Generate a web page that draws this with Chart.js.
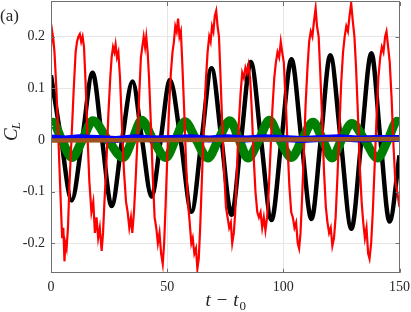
<!DOCTYPE html>
<html>
<head>
<meta charset="utf-8">
<script src="https://cdn.jsdelivr.net/npm/chart.js@4.4.1/dist/chart.umd.min.js"></script>
<style>
  html, body { margin: 0; padding: 0; background: #fff; }
  #cl-chart { display: block; }
</style>
</head>
<body>
<canvas id="cl-chart" width="411" height="312"></canvas>
<script>
// axis ticks
const xTicks = [0, 50, 100, 150];
const yTicks = [-0.2, -0.1, 0, 0.1, 0.2];
const yTickLabels = ['-0.2', '-0.1', '0', '0.1', '0.2'];

// black curve, [t - t0, C_L]
const blackSeries = [
  [0, 0.125], [4.4, 0.0], [8.9, -0.117], [13.4, 0.0], [17.9, 0.13], [22, 0.0],
  [26.1, -0.128], [30.6, 0.0], [35.1, 0.113], [39.2, 0.0], [43.3, -0.11], [47.2, 0.0],
  [51.2, 0.116], [55.8, 0.0], [60.5, -0.139], [64.8, 0.0], [69.1, 0.139], [73.4, 0.0],
  [77.7, -0.145], [81.8, 0.0], [86, 0.151], [90.4, 0.0], [94.9, -0.155], [99.2, 0.0],
  [103.5, 0.156], [107.8, 0.0], [112.1, -0.153], [116.1, 0.0], [120.2, 0.164], [124.7, 0.0],
  [129.3, -0.172], [133.6, 0.0], [137.9, 0.168], [141.8, 0.0], [145.7, -0.158], [150, -0.03]
];

// red curve (noisy)
const redSeries = [
  [0, 0.18], [0.5, 0.21], [1, 0.195], [1.5, 0.17], [2.3, 0.1], [3.2, 0.0], [4.2, -0.12],
  [4.8, -0.19], [5.3, -0.17], [5.8, -0.235], [6.2, -0.2], [6.7, -0.21], [7.3, -0.17],
  [8, -0.08], [8.8, 0.0], [9.8, 0.1], [10.6, 0.17], [11.2, 0.19], [11.8, 0.2], [12.4, 0.205],
  [13, 0.19], [13.6, 0.2], [14.2, 0.18], [14.8, 0.12], [15.6, 0.02], [16.5, -0.08],
  [17.4, -0.14], [18.2, -0.12], [18.9, -0.18], [19.6, -0.15], [20.3, -0.19], [21, -0.17],
  [21.8, -0.215], [22.4, -0.18], [23, -0.12], [23.8, -0.05], [24.7, 0.05], [25.5, 0.12],
  [26.1, 0.16], [26.7, 0.18], [27.3, 0.17], [27.8, 0.185], [28.4, 0.16], [29, 0.17],
  [29.7, 0.12], [30.5, 0.03], [31.4, -0.06], [32.3, -0.12], [33, -0.14], [33.7, -0.17],
  [34.4, -0.15], [35, -0.18], [35.7, -0.14], [36.4, -0.08], [37.2, 0.0], [38, 0.09],
  [38.7, 0.16], [39.3, 0.18], [39.9, 0.2], [40.5, 0.18], [41, 0.2], [41.6, 0.17],
  [42.2, 0.12], [43, 0.03], [43.8, -0.07], [44.6, -0.15], [45.3, -0.17], [46, -0.2],
  [46.7, -0.18], [47.4, -0.22], [48.1, -0.24], [48.7, -0.2], [49.3, -0.13], [50, -0.04],
  [50.8, 0.06], [51.6, 0.13], [52.3, 0.17], [52.9, 0.19], [53.5, 0.22], [54.1, 0.21],
  [54.7, 0.235], [55.3, 0.2], [55.9, 0.21], [56.5, 0.15], [57.3, 0.06], [58.1, -0.04],
  [58.9, -0.12], [59.7, -0.16], [60.4, -0.2], [61, -0.19], [61.7, -0.22], [62.4, -0.21],
  [63, -0.25], [63.6, -0.23], [64.2, -0.17], [65, -0.07], [65.8, 0.03], [66.6, 0.11],
  [67.4, 0.17], [68.1, 0.2], [68.7, 0.19], [69.3, 0.22], [69.9, 0.21], [70.5, 0.24],
  [71.1, 0.25], [71.7, 0.22], [72.3, 0.2], [72.9, 0.13], [73.7, 0.03], [74.5, -0.06],
  [75.3, -0.13], [76, -0.15], [76.7, -0.17], [77.4, -0.16], [78, -0.2], [78.7, -0.18],
  [79.3, -0.14], [80, -0.06], [80.8, 0.03], [81.6, 0.09], [82.3, 0.13], [83, 0.12],
  [83.7, 0.14], [84.4, 0.13], [85, 0.145], [85.7, 0.12], [86.4, 0.06], [87.2, -0.03],
  [88, -0.1], [88.8, -0.14], [89.5, -0.15], [90.2, -0.14], [90.9, -0.17], [91.6, -0.15],
  [92.3, -0.175], [93, -0.15], [93.7, -0.1], [94.5, -0.02], [95.3, 0.06], [96.1, 0.12],
  [96.8, 0.15], [97.5, 0.17], [98.2, 0.16], [98.9, 0.19], [99.5, 0.17], [100.2, 0.15],
  [101, 0.08], [101.8, -0.01], [102.6, -0.09], [103.4, -0.14], [104.1, -0.15], [104.8, -0.17],
  [105.5, -0.16], [106.2, -0.2], [106.8, -0.21], [107.4, -0.18], [108, -0.12], [108.8, -0.03],
  [109.6, 0.07], [110.4, 0.14], [111.1, 0.19], [111.8, 0.21], [112.5, 0.2], [113.2, 0.23],
  [113.9, 0.255], [114.5, 0.22], [115.2, 0.2], [115.9, 0.13], [116.7, 0.04], [117.5, -0.06],
  [118.3, -0.13], [119, -0.16], [119.7, -0.18], [120.4, -0.17], [121.1, -0.205], [121.8, -0.19],
  [122.5, -0.15], [123.3, -0.07], [124.1, 0.02], [124.9, 0.11], [125.7, 0.17], [126.4, 0.2],
  [127.1, 0.22], [127.8, 0.21], [128.5, 0.24], [129.2, 0.265], [129.9, 0.23], [130.6, 0.2],
  [131.3, 0.14], [132.1, 0.05], [132.9, -0.05], [133.7, -0.12], [134.4, -0.16], [135.1, -0.19],
  [135.8, -0.17], [136.5, -0.22], [137.1, -0.23], [137.8, -0.2], [138.5, -0.14], [139.3, -0.05],
  [140.1, 0.04], [140.9, 0.12], [141.7, 0.16], [142.4, 0.18], [143.1, 0.17], [143.8, 0.2],
  [144.4, 0.21], [145.1, 0.18], [145.8, 0.15], [146.6, 0.08], [147.4, -0.01], [148.2, -0.08],
  [149, -0.1], [150, -0.13]
];

// green band
const greenSeries = [
  [0, 0.03], [0.8, 0.034], [4.6, 0.0], [9, -0.034], [13.5, 0.0], [18, 0.037], [24.5, 0.0],
  [31, -0.034], [35, 0.0], [39, 0.038], [44, 0.0], [49.5, -0.034], [53.5, 0.0], [57.6, 0.035],
  [62.5, 0.0], [67.5, -0.035], [72, 0.0], [77, 0.037], [81, 0.0], [84.7, -0.035], [89.5, 0.0],
  [94, 0.038], [98.5, 0.0], [103.5, -0.034], [108, 0.0], [112.8, 0.034], [117, 0.0],
  [121, -0.035], [125, 0.0], [129.5, 0.032], [135, 0.0], [140.5, -0.035], [145, 0.0],
  [149, 0.036], [150, 0.035]
];

// blue and brown, both close to zero
const blueSeries = [
  [0, 0.004], [6, 0.002], [12, 0.004], [20, 0.003], [28, 0.001], [36, 0.004], [44, 0.002],
  [52, 0.003], [60, 0.004], [68, 0.002], [76, 0.004], [84, 0.002], [92, 0.004], [100, 0.003],
  [108, 0.001], [116, 0.003], [124, 0.004], [132, 0.002], [140, 0.003], [150, 0.003]
];
const brownSeries = [[0, -0.001], [50, 0.0], [100, 0.001], [150, 0.002]];

const toPoints = s => s.map(p => ({ x: p[0], y: p[1] }));

// frame, inward ticks and the hand-set titles
const framePlugin = {
  id: 'frame',
  afterDraw: function (chart) {
    const ctx = chart.ctx;
    const a = chart.chartArea;
    const xs = chart.scales.x, ys = chart.scales.y;
    ctx.save();
    ctx.strokeStyle = '#707070';
    ctx.lineWidth = 1;
    ctx.strokeRect(Math.round(a.left) + 0.5, Math.round(a.top) - 0.5,
      Math.round(a.right - a.left) - 1, Math.round(a.bottom - a.top));
    ctx.beginPath();
    xTicks.forEach(v => {
      const px = Math.round(xs.getPixelForValue(v)) + 0.5;
      ctx.moveTo(px, a.bottom); ctx.lineTo(px, a.bottom - 4);
      ctx.moveTo(px, a.top); ctx.lineTo(px, a.top + 4);
    });
    yTicks.forEach(v => {
      const py = Math.round(ys.getPixelForValue(v)) + 0.5;
      ctx.moveTo(a.left, py); ctx.lineTo(a.left + 4, py);
      ctx.moveTo(a.right, py); ctx.lineTo(a.right - 4, py);
    });
    ctx.stroke();

    ctx.fillStyle = '#262626';
    ctx.textBaseline = 'alphabetic';
    // panel label
    ctx.font = '17px "Liberation Serif"';
    ctx.textAlign = 'left';
    ctx.fillText('(a)', 0, 21);

    // x title: t - t0
    ctx.font = 'italic 19px "Liberation Serif"';
    const w1 = ctx.measureText('t \u2212 t').width;
    ctx.font = '13px "Liberation Serif"';
    const w2 = ctx.measureText('0').width;
    let x0 = (a.left + a.right) / 2 - (w1 + w2) / 2;
    ctx.font = 'italic 19px "Liberation Serif"';
    ctx.fillText('t \u2212 t', x0, 306);
    ctx.font = '13px "Liberation Serif"';
    ctx.fillText('0', x0 + w1 + 1, 310);

    // y title: C_L
    ctx.translate(17, 141);
    ctx.rotate(-Math.PI / 2);
    ctx.font = 'italic 19px "Liberation Serif"';
    ctx.fillText('C', 0, 0);
    const wc = ctx.measureText('C').width;
    ctx.font = 'italic 13px "Liberation Serif"';
    ctx.fillText('L', wc - 1, 3);
    ctx.restore();
  }
};

new Chart(document.getElementById('cl-chart'), {
  type: 'line',
  data: {
    datasets: [
      { data: toPoints(brownSeries), borderColor: 'rgb(160, 82, 30)', borderWidth: 4.5, tension: 0 },
      { data: toPoints(blueSeries), borderColor: 'rgb(0, 0, 255)', borderWidth: 7, tension: 0 },
      { data: toPoints(redSeries), borderColor: 'rgb(255, 0, 0)', borderWidth: 2.2, tension: 0 },
      { data: toPoints(greenSeries), borderColor: 'rgb(0, 128, 0)', borderWidth: 9, cubicInterpolationMode: 'monotone' },
      { data: toPoints(blackSeries), borderColor: 'rgb(0, 0, 0)', borderWidth: 4.5, cubicInterpolationMode: 'monotone' }
    ]
  },
  options: {
    responsive: false,
    animation: false,
    devicePixelRatio: 1,
    layout: { padding: { top: 2, right: 11.5, bottom: 0, left: 0 } },
    elements: { point: { radius: 0 } },
    plugins: { legend: { display: false }, tooltip: { enabled: false } },
    scales: {
      x: {
        type: 'linear',
        min: 0,
        max: 150,
        afterBuildTicks: s => { s.ticks = xTicks.map(v => ({ value: v })); },
        afterFit: s => { s.height = 39.3; s.paddingLeft = 0; s.paddingRight = 0; },
        border: { display: false },
        grid: { color: '#e6e6e6', drawTicks: false },
        ticks: { padding: 6, color: '#262626', font: { family: 'Liberation Serif', size: 14 } }
      },
      y: {
        type: 'linear',
        min: -0.257,
        max: 0.267,
        afterBuildTicks: s => { s.ticks = yTicks.map(v => ({ value: v })); },
        afterFit: s => { s.width = 51; s.paddingTop = 0; s.paddingBottom = 0; },
        border: { display: false },
        grid: { color: '#e6e6e6', drawTicks: false },
        ticks: {
          padding: 6,
          color: '#262626',
          font: { family: 'Liberation Serif', size: 14 },
          callback: v => yTickLabels[yTicks.indexOf(v)]
        }
      }
    }
  },
  plugins: [framePlugin]
});
</script>
</body>
</html>
